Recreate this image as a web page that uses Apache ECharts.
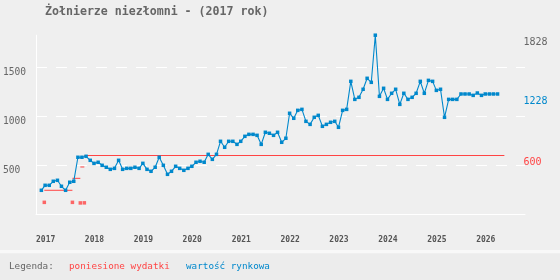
<!DOCTYPE html>
<html><head><meta charset="utf-8">
<script src="https://cdn.jsdelivr.net/npm/echarts@6/dist/echarts.min.js"></script>
<style>html,body{margin:0;padding:0;background:#efefef}#c{width:560px;height:280px}</style>
</head><body><div id="c"></div>
<script>
const titleText = 'Żołnierze niezłomni - (2017 rok)';
const xMin = '2017-01-01';
const xMax = '2027-01-01';
const gridYears = ['2018-01-01','2019-01-01','2020-01-01','2021-01-01','2022-01-01','2023-01-01','2024-01-01','2025-01-01','2026-01-01'];
const yTicks = [500, 1000, 1500];
const blueFirstMonth = [2017, 2];
const blueValues = [
  245,296,296,337,347,286,245,327,337,582,582,
  592,551,520,531,500,480,459,469,551,459,469,469,
  480,469,520,459,439,480,582,500,408,439,490,469,
  449,469,490,531,541,531,612,561,612,745,684,745,
  745,714,745,796,816,816,806,714,837,827,806,837,
  735,776,1031,980,1061,1071,949,918,990,1010,898,918,
  939,949,888,1061,1071,1357,1173,1194,1276,1388,1347,1828,
  1204,1286,1173,1235,1276,1122,1235,1173,1194,1235,1357,1235,
  1367,1357,1265,1276,990,1173,1173,1173,1228,1228,1228,1214,
  1238,1214,1228,1228,1228,1228
];
const redDates = ['2017-03-04','2017-09-30','2017-11-28','2017-12-28'];
const redTotals = [245, 367, 483, 600];
const redItems = [122, 122, 116, 117];
const redEnd = '2026-07-31';
const legendLabels = ['Legenda:', 'poniesione wydatki', 'wartość rynkowa'];

const BLUE = '#0088cc', RED = '#ff4444', GRAY = '#666666', MONO = '"DejaVu Sans Mono", "Liberation Mono", monospace';

function pad(n){return (n<10?'0':'')+n;}
const blueData = blueValues.map((v,i)=>{
  const m = blueFirstMonth[1]-1+i;
  const y = blueFirstMonth[0]+Math.floor(m/12);
  return [y+'-'+pad(m%12+1)+'-10', v];
});
const redLine = [];
redDates.forEach((d,i)=>{
  const end = i+1<redDates.length ? redDates[i+1] : redEnd;
  redLine.push([d, redTotals[i]], [end, redTotals[i]], [end, '-']);
});
const redDots = redDates.map((d,i)=>[d, redItems[i]]);
const maxBlue = Math.max(...blueValues);
const lastBlue = blueValues[blueValues.length-1];
const lastRed = redTotals[redTotals.length-1];

function endLabel(value, color){
  return {
    coord:[xMax, value], value: value, symbol:'circle', symbolSize:1,
    itemStyle:{color:'rgba(0,0,0,0)'},
    label:{show:true, position:'right', distance:0, offset:[-2,7], formatter:String(value),
      color:color, fontFamily:MONO, fontSize:10}
  };
}

const chart = echarts.init(document.getElementById('c'), null, {renderer:'canvas'});
chart.setOption({
  animation:false,
  backgroundColor:'#efefef',
  title:{text:titleText, left:45, top:6, padding:0,
    textStyle:{fontFamily:MONO, fontWeight:'bold', fontSize:11.6, color:GRAY}},
  grid:{left:36, right:35, top:35.2, bottom:65.7, outerBoundsMode:'none'},
  xAxis:{type:'time', min:xMin, max:xMax,
    minInterval:365*86400000, maxInterval:366*86400000,
    axisLine:{show:true, onZero:true, lineStyle:{color:'#ffffff', width:1}},
    axisTick:{show:false}, splitLine:{show:false},
    axisLabel:{formatter:'{yyyy}', align:'left', margin:22, showMaxLabel:false, showMinLabel:true,
      fontFamily:MONO, fontWeight:'bold', fontSize:8, color:'#555555', hideOverlap:false}
  },
  yAxis:{type:'value', min:0, max:maxBlue, interval:500,
    axisLine:{show:true, lineStyle:{color:'#ffffff', width:1}},
    axisTick:{show:false},
    splitLine:{show:true, showMinLine:false, showMaxLine:false,
      lineStyle:{color:'#ffffff', width:1, type:[11,9]}},
    axisLabel:{showMinLabel:false, showMaxLabel:false, align:'left', margin:33, verticalAlign:'top',
      fontFamily:MONO, fontSize:9.6, color:GRAY,
      formatter:(v)=> yTicks.indexOf(v)>=0 ? String(v) : ''}
  },
  series:[
    {type:'line', data:[], z:1, silent:true,
      markLine:{silent:true, symbol:['none','none'], label:{show:false},
        lineStyle:{color:'#ffffff', width:1, type:[11,9]},
        data: gridYears.map(d=>[{coord:[d,1545]},{coord:[d,-25]}])}
    },
    {type:'line', name:'poniesione wydatki', data:redLine, connectNulls:false, showSymbol:false, symbol:'none',
      lineStyle:{color:RED, width:1}, itemStyle:{color:RED}, z:3,
      markPoint:{data:[endLabel(lastRed, RED)]}
    },
    {type:'scatter', data:redDots, symbol:'rect', symbolSize:3.5, itemStyle:{color:RED}, z:3},
    {type:'line', name:'wartość rynkowa', data:blueData, symbol:'rect', symbolSize:3.5, showAllSymbol:true,
      lineStyle:{color:BLUE, width:1.1}, itemStyle:{color:BLUE}, z:4,
      markPoint:{data:[endLabel(maxBlue, GRAY), endLabel(lastBlue, BLUE)]}
    }
  ],
  graphic:[
    {type:'rect', shape:{x:0,y:250,width:560,height:3.5}, style:{fill:'#f8f8f8'}, silent:true},
    {type:'rect', shape:{x:0,y:253.5,width:560,height:26.5}, style:{fill:'#ececec'}, silent:true},
    {type:'text', x:9, y:266.5, style:{text:legendLabels[0], fill:GRAY, font:'9.3px '+MONO, verticalAlign:'middle'}},
    {type:'text', x:69, y:266.5, style:{text:legendLabels[1], fill:RED, font:'9.3px '+MONO, verticalAlign:'middle'}},
    {type:'text', x:186, y:266.5, style:{text:legendLabels[2], fill:BLUE, font:'9.3px '+MONO, verticalAlign:'middle'}}
  ]
});
</script></body></html>
